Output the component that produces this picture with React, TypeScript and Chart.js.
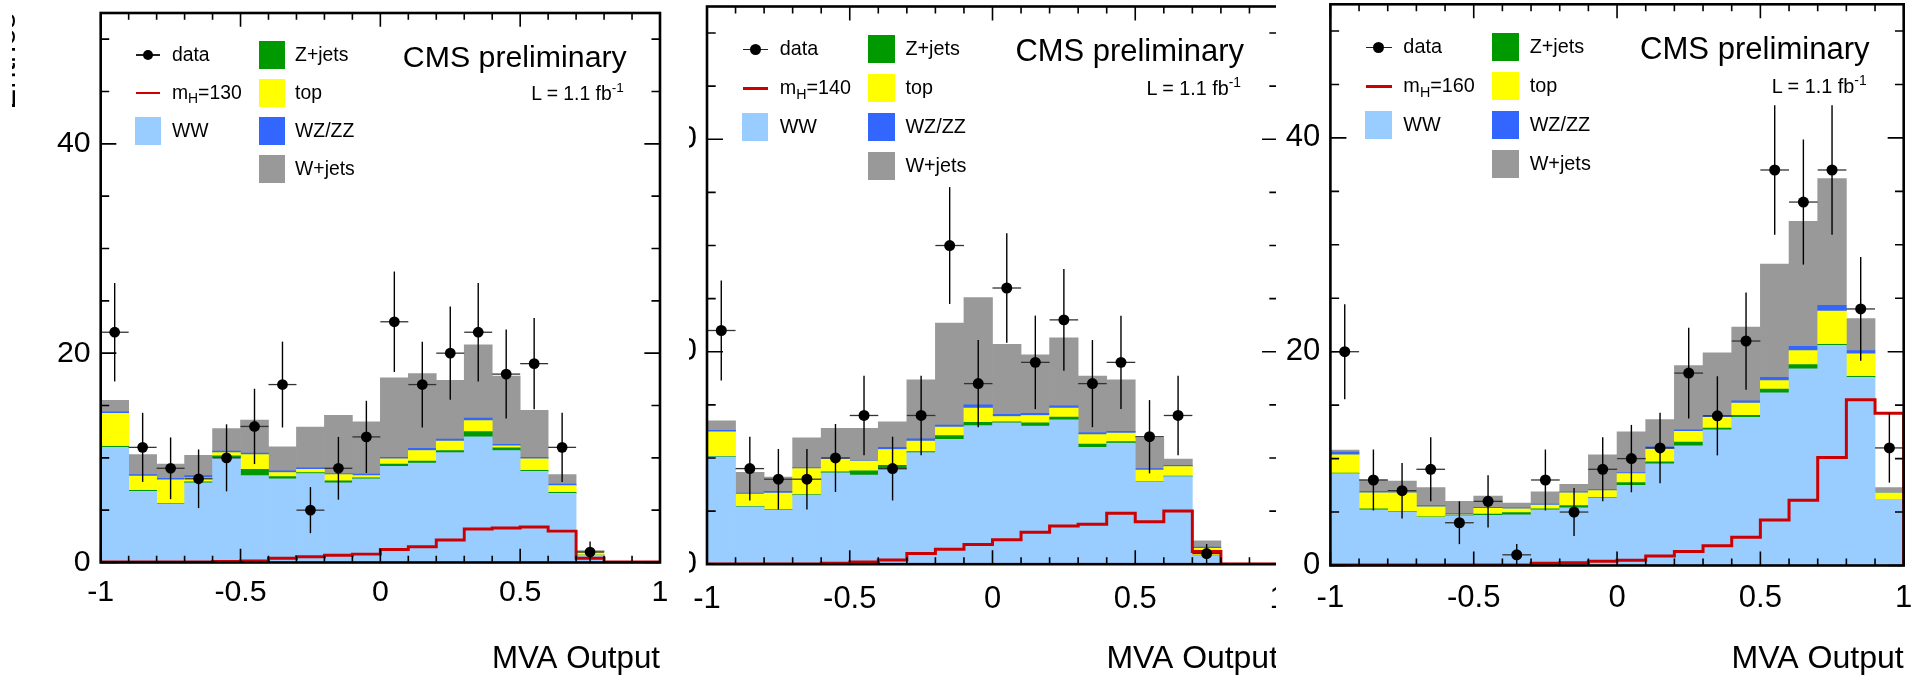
import React, { useEffect, useRef } from 'react';
import { Chart, registerables } from 'chart.js';

Chart.register(...registerables);

const FONT = "'Liberation Sans', Arial, Helvetica, sans-serif";

// ---- binning / axes ----
const binEdges = [-1, -0.9, -0.8, -0.7, -0.6, -0.5, -0.4, -0.3, -0.2, -0.1, 0, 0.1, 0.2, 0.3, 0.4, 0.5, 0.6, 0.7, 0.8, 0.9, 1];
const binCenters = [-0.95, -0.85, -0.75, -0.65, -0.55, -0.45, -0.35, -0.25, -0.15, -0.05, 0.05, 0.15, 0.25, 0.35, 0.45, 0.55, 0.65, 0.75, 0.85, 0.95];
const xTickValues = [-1, -0.5, 0, 0.5, 1];
const xTickLabels = ['-1', '-0.5', '0', '0.5', '1'];
const yTickValues = [0, 20, 40];
const yTickLabels = ['0', '20', '40'];
const yMax = 52.5;
const xMinorStep = 0.1;
const yMinorStep = 5;

// ---- panel 1 : mH = 130 ----
const ww130 = [11.0, 6.8, 5.6, 7.6, 10.0, 8.3, 8.0, 8.5, 7.6, 8.0, 9.2, 9.5, 10.5, 12.0, 10.7, 8.7, 6.6, 0.7, 0, 0];
const zjets130 = [0.1, 0.1, 0.05, 0.1, 0.2, 0.6, 0.2, 0.1, 0.2, 0.1, 0.2, 0.2, 0.2, 0.5, 0.25, 0.1, 0.1, 0, 0, 0];
const top130 = [3.15, 1.35, 2.25, 0.4, 0.3, 1.4, 0.4, 0.3, 0.6, 0.2, 0.5, 1.0, 0.9, 1.05, 0.2, 1.1, 0.65, 0.3, 0, 0];
const wzzz130 = [0.15, 0.15, 0.15, 0.2, 0.15, 0.15, 0.15, 0.15, 0.1, 0.15, 0.15, 0.2, 0.2, 0.25, 0.15, 0.15, 0.15, 0.05, 0, 0];
const wjets130 = [1.1, 1.9, 1.35, 1.95, 2.15, 3.15, 2.3, 3.9, 5.55, 5.0, 7.6, 7.15, 5.6, 7.0, 6.5, 4.5, 0.9, 0.1, 0, 0];
const signal130 = [0.05, 0.05, 0.05, 0.05, 0.1, 0.15, 0.4, 0.55, 0.7, 0.8, 1.25, 1.5, 2.15, 3.2, 3.3, 3.4, 3.0, 0.4, 0.05, 0.05];
const data130 = [22, 11, 9, 8, 10, 13, 17, 5, 9, 12, 23, 17, 20, 22, 18, 19, 11, 1, null, null];
const err130 = [4.7, 3.3, 2.95, 2.8, 3.2, 3.6, 4.1, 2.2, 3.0, 3.45, 4.8, 4.1, 4.45, 4.7, 4.25, 4.35, 3.3, 1.0, 0, 0];

// ---- panel 2 : mH = 140 ----
const ww140 = [10.1, 5.4, 5.1, 6.5, 8.6, 8.4, 8.9, 10.5, 11.75, 13.05, 13.3, 13.0, 13.6, 11.0, 11.4, 7.7, 8.25, 0.8, 0, 0];
const zjets140 = [0.05, 0.05, 0.05, 0.05, 0.1, 0.4, 0.4, 0.1, 0.35, 0.3, 0.1, 0.3, 0.25, 0.3, 0.15, 0.05, 0.05, 0, 0, 0];
const top140 = [2.3, 1.15, 1.55, 2.45, 1.2, 0.9, 1.5, 1.0, 0.8, 1.35, 0.5, 0.7, 0.85, 0.9, 0.8, 1.1, 0.9, 0.7, 0, 0];
const wzzz140 = [0.15, 0.1, 0.15, 0.1, 0.1, 0.05, 0.2, 0.2, 0.2, 0.3, 0.2, 0.2, 0.2, 0.2, 0.15, 0.15, 0.1, 0.1, 0, 0];
const wjets140 = [0.9, 1.95, 1.35, 2.8, 2.8, 3.05, 2.4, 5.55, 9.6, 10.1, 6.6, 5.5, 6.4, 5.3, 4.85, 2.9, 0.6, 0.6, 0, 0];
const signal140 = [0.03, 0.03, 0.03, 0.03, 0.1, 0.2, 0.4, 1.0, 1.4, 1.85, 2.3, 3.0, 3.6, 3.75, 4.8, 4.0, 5.0, 1.2, 0.03, 0.03];
const data140 = [22, 9, 8, 8, 10, 14, 9, 14, 30, 17, 26, 19, 23, 17, 19, 12, 14, 1, null, null];
const err140 = [4.7, 3.0, 2.85, 2.85, 3.2, 3.75, 3.0, 3.75, 5.5, 4.1, 5.15, 4.4, 4.8, 4.1, 4.4, 3.45, 3.75, 0.9, 0, 0];

// ---- panel 3 : mH = 160 ----
const ww160 = [8.6, 5.2, 5.0, 4.5, 4.6, 4.7, 4.75, 5.2, 5.4, 6.3, 7.5, 9.5, 11.2, 12.7, 13.85, 16.15, 18.4, 20.6, 17.6, 6.2];
const zjets160 = [0.05, 0.1, 0.05, 0.05, 0.05, 0.1, 0.2, 0.1, 0.2, 0.05, 0.25, 0.2, 0.35, 0.15, 0.2, 0.35, 0.4, 0.1, 0.1, 0];
const top160 = [1.7, 1.5, 1.75, 0.95, 0.1, 0.55, 0.35, 0.35, 1.2, 0.65, 0.85, 1.2, 1.0, 1.0, 1.15, 0.8, 1.3, 3.1, 2.1, 0.6];
const wzzz160 = [0.25, 0.15, 0.1, 0.1, 0.1, 0.1, 0.1, 0.1, 0.1, 0.1, 0.1, 0.2, 0.15, 0.15, 0.2, 0.3, 0.4, 0.55, 0.3, 0.05];
const wjets160 = [0.2, 1.05, 1.0, 1.7, 1.15, 1.05, 0.45, 1.15, 0.7, 3.25, 3.8, 2.55, 6.0, 5.9, 6.9, 10.6, 11.7, 11.85, 3.0, 0.45];
const signal160 = [0.05, 0.05, 0.05, 0.05, 0.05, 0.05, 0.05, 0.2, 0.25, 0.4, 0.5, 0.9, 1.3, 1.85, 2.65, 4.25, 6.1, 10.1, 15.5, 14.25];
const data160 = [20, 8, 7, 9, 4, 6, 1, 8, 5, 9, 10, 11, 18, 14, 21, 37, 34, 37, 24, 11];
const err160 = [4.45, 2.85, 2.6, 3.0, 2.0, 2.45, 1.0, 2.85, 2.25, 3.0, 3.15, 3.3, 4.25, 3.7, 4.55, 6.05, 5.85, 6.05, 4.85, 3.25];

// ---- styles of the stacked backgrounds (bottom to top) ----
const stackOrder = [
  { key: 'ww', label: 'WW', color: '#99ccff' },
  { key: 'zj', label: 'Z+jets', color: '#009900' },
  { key: 'top', label: 'top', color: '#ffff00' },
  { key: 'wz', label: 'WZ/ZZ', color: '#3366ff' },
  { key: 'wj', label: 'W+jets', color: '#999999' },
];
const SIGNAL_COLOR = '#cc0000';

const panels = [
  {
    mass: '130', ww: ww130, zj: zjets130, top: top130, wz: wzzz130, wj: wjets130, sig: signal130, data: data130, err: err130,
    wrapLeft: 12, wrapWidth: 660, canvasLeft: -15, areaLeft: 100.7, areaRight: 660, areaTop: 13, areaBottom: 562.5, xLabelPad: 12, yTitle: true,
  },
  {
    mass: '140', ww: ww140, zj: zjets140, top: top140, wz: wzzz140, wj: wjets140, sig: signal140, data: data140, err: err140,
    wrapLeft: 689, wrapWidth: 587, canvasLeft: 597, areaLeft: 707, areaRight: 1278, areaTop: 6.5, areaBottom: 564.2, xLabelPad: 17, yTitle: false,
  },
  {
    mass: '160', ww: ww160, zj: zjets160, top: top160, wz: wzzz160, wj: wjets160, sig: signal160, data: data160, err: err160,
    wrapLeft: 1277, wrapWidth: 646, canvasLeft: 1220, areaLeft: 1330.4, areaRight: 1903.7, areaTop: 4.3, areaBottom: 565.5, xLabelPad: 14, yTitle: false,
  },
];

// error bars for data points (drawn just before the dots)
const errorBarsPlugin = {
  id: 'errorBars',
  beforeDatasetDraw(chart: any, args: any) {
    const ds = chart.data.datasets[args.index];
    if (!ds.isData) return;
    const { ctx, scales } = chart;
    const x = scales.x, y = scales.y;
    ctx.save();
    ds.data.forEach((pt: any) => {
      const px = x.getPixelForValue(pt.x);
      const py = y.getPixelForValue(pt.y);
      ctx.strokeStyle = '#000';
      ctx.lineWidth = 1.4;
      ctx.beginPath();
      ctx.moveTo(px, y.getPixelForValue(pt.y + pt.err));
      ctx.lineTo(px, y.getPixelForValue(Math.max(0, pt.y - pt.err)));
      ctx.stroke();
      ctx.strokeStyle = '#333';
      ctx.lineWidth = 1.3;
      ctx.beginPath();
      ctx.moveTo(x.getPixelForValue(pt.xlo), py);
      ctx.lineTo(x.getPixelForValue(pt.xhi), py);
      ctx.stroke();
    });
    ctx.restore();
  },
};

// ROOT-like frame with inward ticks on all four sides
const rootFramePlugin = {
  id: 'rootFrame',
  afterDatasetsDraw(chart: any, _args: any, opts: any) {
    const k = opts.k || 1;
    const { ctx, chartArea: a, scales } = chart;
    const x = scales.x, y = scales.y;
    ctx.save();
    ctx.strokeStyle = '#000';
    ctx.lineWidth = 1.6;
    ctx.beginPath();
    const nx = Math.round((x.max - x.min) / xMinorStep);
    for (let i = 0; i <= nx; i++) {
      const v = x.min + i * xMinorStep;
      const px = x.getPixelForValue(v);
      const len = (i % 5 === 0 ? 14 : 7) * k;
      ctx.moveTo(px, a.bottom);
      ctx.lineTo(px, a.bottom - len);
      ctx.moveTo(px, a.top);
      ctx.lineTo(px, a.top + len);
    }
    for (let v = 0; v <= yMax; v += yMinorStep) {
      const py = y.getPixelForValue(v);
      const len = (v % 20 === 0 ? 16 : 8.7) * k;
      ctx.moveTo(a.left, py);
      ctx.lineTo(a.left + len, py);
      ctx.moveTo(a.right, py);
      ctx.lineTo(a.right - len, py);
    }
    ctx.stroke();
    ctx.lineWidth = 2.6;
    ctx.strokeRect(a.left, a.top, a.right - a.left, a.bottom - a.top);
    ctx.restore();
  },
};

function canvasWidth(p: any) {
  return Math.ceil(p.areaRight + 30 - p.canvasLeft);
}

function buildConfig(p: any) {
  const k = (p.areaRight - p.areaLeft) / 572;
  const canvasW = canvasWidth(p);
  const padRight = canvasW - (p.areaRight - p.canvasLeft);

  const bars = stackOrder.map((s) => ({
    type: 'bar',
    label: s.label,
    data: binCenters.map((c, i) => ({ x: c, y: p[s.key][i] })),
    backgroundColor: s.color,
    borderWidth: 0,
    barPercentage: 1,
    categoryPercentage: 1,
    order: 3,
  }));

  const sigPoints = binCenters
    .map((_c, i) => ({ x: binEdges[i], y: p.sig[i] }))
    .concat([{ x: binEdges[binEdges.length - 1], y: 0 }]);

  const dataPoints = binCenters
    .map((c, i) =>
      p.data[i] == null ? null : { x: c, y: p.data[i], err: p.err[i], xlo: binEdges[i], xhi: binEdges[i + 1] }
    )
    .filter(Boolean);

  return {
    type: 'bar',
    data: {
      datasets: [
        ...bars,
        {
          type: 'line',
          label: 'signal',
          data: sigPoints,
          borderColor: SIGNAL_COLOR,
          borderWidth: 3 * k,
          pointRadius: 0,
          stepped: 'before',
          fill: false,
          stack: 'sig',
          order: 2,
        },
        {
          type: 'line',
          label: 'data',
          isData: true,
          data: dataPoints,
          showLine: false,
          pointRadius: 5.5 * k,
          pointHoverRadius: 5.5 * k,
          pointBackgroundColor: '#000',
          pointBorderColor: '#000',
          pointBorderWidth: 0,
          stack: 'dat',
          order: 1,
        },
      ],
    },
    options: {
      responsive: false,
      maintainAspectRatio: false,
      animation: false,
      devicePixelRatio: 1,
      events: [],
      layout: { autoPadding: false, padding: { left: 0, right: padRight, top: p.areaTop, bottom: 0 } },
      plugins: {
        legend: { display: false },
        tooltip: { enabled: false },
        rootFrame: { k },
      },
      scales: {
        x: {
          type: 'linear',
          min: -1,
          max: 1,
          offset: false,
          stacked: true,
          grid: { display: false, drawTicks: false },
          border: { display: false },
          ticks: {
            autoSkip: false,
            maxRotation: 0,
            includeBounds: false,
            padding: p.xLabelPad,
            color: '#000',
            font: { family: FONT, size: 31 * k },
            callback: (_v: any, i: number) => xTickLabels[i],
          },
          afterBuildTicks: (s: any) => {
            s.ticks = xTickValues.map((v) => ({ value: v }));
          },
          afterFit: (s: any) => {
            s.height = 678 - p.areaBottom;
            s.paddingLeft = 0;
            s.paddingRight = 0;
            s.paddingTop = 0;
            s.paddingBottom = 0;
          },
          title: {
            display: true,
            text: 'MVA Output',
            align: 'end',
            color: '#000',
            font: { family: FONT, size: 32 * k, lineHeight: 1 },
            padding: { top: 0, bottom: 3 },
          },
        },
        y: {
          type: 'linear',
          min: 0,
          max: yMax,
          stacked: true,
          grid: { display: false, drawTicks: false },
          border: { display: false },
          ticks: {
            autoSkip: false,
            includeBounds: false,
            padding: 10,
            color: '#000',
            font: { family: FONT, size: 31 * k },
            callback: (_v: any, i: number) => yTickLabels[i],
          },
          afterBuildTicks: (s: any) => {
            s.ticks = yTickValues.map((v) => ({ value: v }));
          },
          afterFit: (s: any) => {
            s.width = p.areaLeft - p.canvasLeft;
            s.paddingLeft = 0;
            s.paddingRight = 0;
            s.paddingTop = 0;
            s.paddingBottom = 0;
          },
          title: {
            display: !!p.yTitle,
            text: 'Entries',
            align: 'end',
            color: '#000',
            font: { family: FONT, size: 31, lineHeight: 1 },
            padding: { top: 5.7, bottom: 0 },
          },
        },
      },
    },
    plugins: [errorBarsPlugin, rootFramePlugin],
  };
}

function Txt({ x, y, size, right, children }: any) {
  return (
    <div
      style={{
        position: 'absolute',
        left: x,
        top: y,
        transform: `translate(${right ? '-100%' : '0'}, -50%)`,
        fontFamily: FONT,
        fontSize: size,
        lineHeight: 1,
        whiteSpace: 'nowrap',
        color: '#000',
      }}
    >
      {children}
    </div>
  );
}

function Legend({ p }: any) {
  const k = (p.areaRight - p.areaLeft) / 572;
  const ox = p.areaLeft - p.wrapLeft;
  const rx = p.areaRight - p.wrapLeft;
  const oy = p.areaTop;
  const rowY = (i: number) => oy + k * (43 + 38.8 * i);
  const fs = 19.8 * k;
  const col2 = [stackOrder[1], stackOrder[2], stackOrder[3], stackOrder[4]];
  const boxW = 27 * k;
  const boxH = 28 * k;
  return (
    <div style={{ position: 'absolute', left: 0, top: 0, width: '100%', height: '100%', pointerEvents: 'none' }}>
      {/* data */}
      <div style={{ position: 'absolute', left: ox + 35.6 * k, top: rowY(0) - 0.7, width: 25.5 * k, height: 1.4, background: '#222' }} />
      <div
        style={{
          position: 'absolute',
          left: ox + (35.6 + 12.75) * k - 5.5 * k,
          top: rowY(0) - 5.5 * k,
          width: 11 * k,
          height: 11 * k,
          borderRadius: '50%',
          background: '#000',
        }}
      />
      <Txt x={ox + 72.8 * k} y={rowY(0)} size={fs}>data</Txt>
      {/* signal */}
      <div style={{ position: 'absolute', left: ox + 35.6 * k, top: rowY(1) - 1.5 * k, width: 25.5 * k, height: 3 * k, background: SIGNAL_COLOR }} />
      <Txt x={ox + 72.8 * k} y={rowY(1)} size={fs}>
        m<span style={{ fontSize: '0.72em', position: 'relative', top: '0.32em' }}>H</span>={p.mass}
      </Txt>
      {/* WW */}
      <div
        style={{ position: 'absolute', left: ox + 35 * k, top: rowY(2) - boxH / 2, width: 26.5 * k, height: boxH, background: stackOrder[0].color }}
      />
      <Txt x={ox + 72.8 * k} y={rowY(2)} size={fs}>{stackOrder[0].label}</Txt>
      {col2.map((s, i) => (
        <React.Fragment key={s.key}>
          <div style={{ position: 'absolute', left: ox + 161.4 * k, top: rowY(i) - boxH / 2, width: boxW, height: boxH, background: s.color }} />
          <Txt x={ox + 198.8 * k} y={rowY(i)} size={fs}>{s.label}</Txt>
        </React.Fragment>
      ))}
      <Txt x={rx - 34 * k} y={oy + 45 * k} size={31 * k} right>CMS preliminary</Txt>
      <Txt x={rx - 37 * k} y={oy + 82.5 * k} size={fs} right>
        L = 1.1 fb<span style={{ fontSize: '0.7em', position: 'relative', top: '-0.55em' }}>-1</span>
      </Txt>
    </div>
  );
}

function Panel({ p }: any) {
  const ref = useRef<HTMLCanvasElement>(null);
  const canvasW = canvasWidth(p);
  useEffect(() => {
    if (!ref.current) return;
    const chart = new Chart(ref.current, buildConfig(p) as any);
    return () => chart.destroy();
  }, []);
  return (
    <div
      style={{
        position: 'absolute',
        left: p.wrapLeft,
        top: 0,
        width: p.wrapWidth,
        height: 678,
        overflow: 'hidden',
        background: '#fff',
      }}
    >
      <canvas
        ref={ref}
        width={canvasW}
        height={678}
        style={{ position: 'absolute', left: p.canvasLeft - p.wrapLeft, top: 0, width: canvasW, height: 678 }}
      />
      <Legend p={p} />
    </div>
  );
}

export default function App() {
  return (
    <div style={{ position: 'absolute', left: 0, top: 0, width: 1923, height: 678, background: '#fff', overflow: 'hidden' }}>
      {panels.map((p) => (
        <Panel key={p.mass} p={p} />
      ))}
    </div>
  );
}
